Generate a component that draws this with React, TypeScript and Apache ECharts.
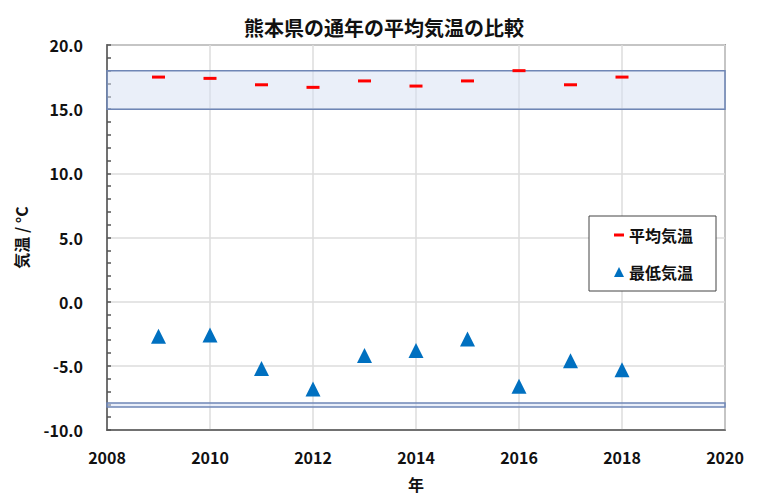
import React, { useEffect, useRef } from "react";
import * as echarts from "echarts";

const years = [2009, 2010, 2011, 2012, 2013, 2014, 2015, 2016, 2017, 2018];
const meanTemp = [17.5, 17.4, 16.9, 16.7, 17.2, 16.8, 17.2, 18.0, 16.9, 17.5];
const minTemp = [-2.7, -2.6, -5.2, -6.8, -4.2, -3.8, -2.9, -6.6, -4.6, -5.3];
const meanBand = [15.0, 18.0];
const minBand = [-8.2, -7.9];

const FONT = "'Noto Sans CJK JP', 'Noto Sans', sans-serif";
const GRID_LEFT = 107;
const GRID_RIGHT = 43;
const WIDTH = 768;

export default function App() {
  const ref = useRef<HTMLDivElement>(null);
  useEffect(() => {
    document.body.style.margin = "0";
    if (!ref.current) return;
    const chart = echarts.init(ref.current, null, { renderer: "svg" });
    const bandStyle = {
      color: "rgba(214, 224, 243, 0.5)",
      borderColor: "#6f86b6",
      borderWidth: 1.5,
    };
    const tickLine = { color: "#555", width: 1.5 };
    chart.setOption({
      animation: false,
      backgroundColor: "#ffffff",
      textStyle: { fontFamily: FONT },
      title: {
        text: "熊本県の通年の平均気温の比較",
        left: "center",
        top: 12,
        textStyle: { fontFamily: FONT, fontSize: 20, fontWeight: "bold", color: "#111" },
      },
      grid: {
        left: GRID_LEFT,
        right: GRID_RIGHT,
        top: 45,
        bottom: 71,
        show: true,
        borderColor: "#555",
        borderWidth: 1.5,
        backgroundColor: "transparent",
      },
      legend: {
        orient: "vertical",
        left: 589,
        top: 216,
        padding: [11, 23, 11, 25],
        itemGap: 21,
        itemWidth: 10,
        itemHeight: 10,
        backgroundColor: "#fff",
        borderColor: "#444",
        borderWidth: 1,
        textStyle: { fontFamily: FONT, fontSize: 16, fontWeight: "bold", color: "#111" },
        data: [
          { name: "平均気温", icon: "path://M0,0H10V3H0Z" },
          { name: "最低気温", icon: "triangle" },
        ],
      },
      xAxis: {
        type: "value",
        min: 2008,
        max: 2020,
        interval: 2,
        name: "年",
        nameLocation: "middle",
        nameGap: 46,
        nameTextStyle: { fontFamily: FONT, fontSize: 16, fontWeight: "bold", color: "#111" },
        axisLine: { show: true, onZero: false, lineStyle: { color: "#555", width: 1.5 } },
        axisTick: { show: false },
        axisLabel: {
          margin: 19,
          fontFamily: FONT,
          fontSize: 16,
          fontWeight: "bold",
          color: "#111",
          formatter: (v: number) => String(v),
        },
        splitLine: { show: true, lineStyle: { color: "#dcdcdc", width: 1.5 } },
      },
      yAxis: [
        {
          type: "value",
          min: -10,
          max: 20,
          interval: 5,
          name: "気温 / °C",
          nameLocation: "middle",
          nameGap: 78,
          nameTextStyle: { fontFamily: FONT, fontSize: 16, fontWeight: "bold", color: "#111" },
          axisLine: { show: true, onZero: false, lineStyle: { color: "#555", width: 1.5 } },
          axisTick: { show: false },
          axisLabel: {
            margin: 24,
            fontFamily: FONT,
            fontSize: 16,
            fontWeight: "bold",
            color: "#111",
            formatter: (v: number) => v.toFixed(1),
          },
          splitLine: { show: true, lineStyle: { color: "#dcdcdc", width: 1.5 } },
        },
        {
          // tick-only axis placed on the left edge so its ticks point into the plot
          type: "value",
          position: "right",
          offset: -(WIDTH - GRID_LEFT - GRID_RIGHT),
          min: -10,
          max: 20,
          interval: 5,
          axisLine: { show: false, onZero: false },
          axisTick: { show: true, inside: false, length: 4, lineStyle: tickLine },
          minorTick: { show: true, splitNumber: 5, length: 4, lineStyle: tickLine },
          axisLabel: { show: false },
          splitLine: { show: false },
        },
      ],
      series: [
        {
          name: "bands",
          type: "line",
          data: [],
          z: 1,
          silent: true,
          markArea: {
            silent: true,
            itemStyle: bandStyle,
            data: [
              [{ yAxis: meanBand[0] }, { yAxis: meanBand[1] }],
              [{ yAxis: minBand[0] }, { yAxis: minBand[1] }],
            ],
          },
        },
        {
          name: "平均気温",
          type: "scatter",
          z: 3,
          symbol: "rect",
          symbolSize: [13, 3],
          itemStyle: { color: "#ff0000", opacity: 1 },
          data: years.map((y, i) => [y, meanTemp[i]]),
        },
        {
          name: "最低気温",
          type: "scatter",
          z: 3,
          symbol: "triangle",
          symbolSize: 15,
          itemStyle: { color: "#0070c0", opacity: 1 },
          data: years.map((y, i) => [y, minTemp[i]]),
        },
      ],
    });
    return () => chart.dispose();
  }, []);
  return <div ref={ref} style={{ width: WIDTH, height: 501 }} />;
}
